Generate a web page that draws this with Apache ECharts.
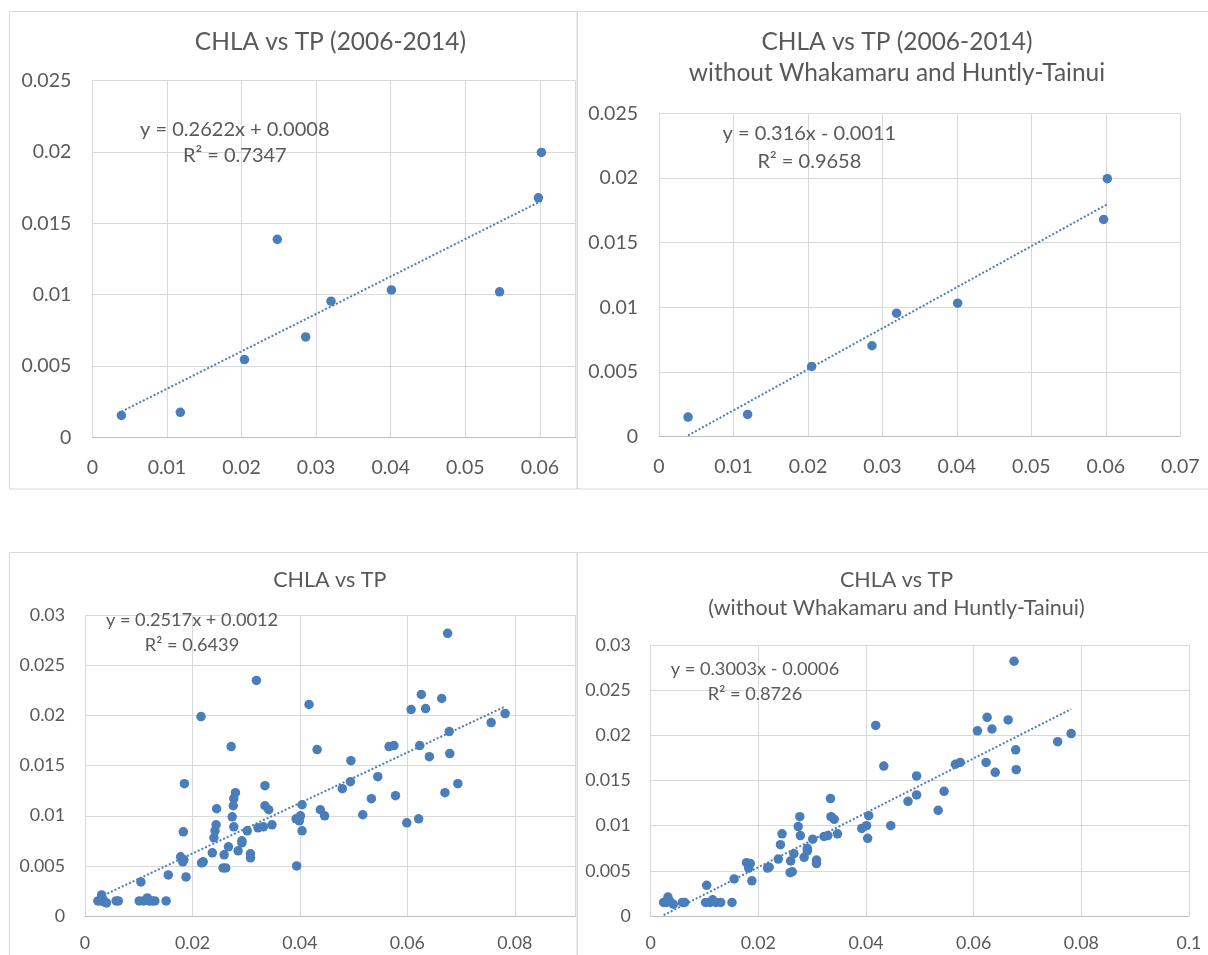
<!DOCTYPE html>
<html>
<head>
<meta charset="utf-8">
<script src="https://cdn.jsdelivr.net/npm/echarts@6/dist/echarts.min.js"></script>
<style>
html,body{margin:0;padding:0;background:#ffffff;}
#chart{width:1208px;height:955px;}
</style>
</head>
<body>
<div id="chart"></div>
<script>
// ---------- DATA ----------
// Panel 1: CHLA vs TP (2006-2014)
const TL_TP   = [0.0039, 0.0118, 0.0204, 0.0248, 0.0286, 0.0320, 0.0401, 0.0546, 0.0598, 0.0602];
const TL_CHLA = [0.00153, 0.00175, 0.00545, 0.01388, 0.00704, 0.00954, 0.01033, 0.01020, 0.01679, 0.01997];

// Panel 2: CHLA vs TP (2006-2014) without Whakamaru and Huntly-Tainui
const TR_TP   = [0.0039, 0.0119, 0.0205, 0.0286, 0.0319, 0.0401, 0.0597, 0.0602];
const TR_CHLA = [0.00152, 0.00172, 0.00543, 0.00703, 0.00955, 0.01032, 0.01679, 0.01995];

// Panel 3: CHLA vs TP (all)
const BL_TP = [
  0.0024,0.0029,0.0031,0.0034,0.0036,0.0040,0.0058,0.0062,0.0104,0.0101,
  0.0109,0.0116,0.0120,0.0125,0.0130,0.0151,0.0155,0.0185,0.0183,0.0178,
  0.0184,0.0182,0.0188,0.0216,0.0217,0.0220,0.0237,0.0245,0.0244,0.0242,
  0.0240,0.0272,0.0280,0.0277,0.0276,0.0274,0.0277,0.0267,0.0259,0.0257,
  0.0262,0.0285,0.0292,0.0292,0.0302,0.0308,0.0308,0.0319,0.0335,0.0322,
  0.0332,0.0335,0.0342,0.0348,0.0394,0.0393,0.0399,0.0401,0.0404,0.0404,
  0.0417,0.0432,0.0438,0.0446,0.0495,0.0494,0.0479,0.0517,0.0533,0.0545,
  0.0566,0.0575,0.0578,0.0599,0.0621,0.0607,0.0626,0.0634,0.0664,0.0675,
  0.0623,0.0641,0.0678,0.0679,0.0670,0.0694,0.0756,0.0782
];
const BL_CHLA = [
  0.0015,0.0015,0.0021,0.0016,0.0014,0.0013,0.0015,0.0015,0.0034,0.0015,
  0.0015,0.0018,0.0015,0.0015,0.0015,0.0015,0.0041,0.0132,0.0084,0.0059,
  0.0056,0.0054,0.0039,0.0199,0.0053,0.0054,0.0063,0.0107,0.0091,0.0085,
  0.0078,0.0169,0.0123,0.0117,0.0110,0.0099,0.0089,0.0069,0.0061,0.0048,
  0.0048,0.0065,0.0075,0.0073,0.0085,0.0062,0.0058,0.0235,0.0130,0.0088,
  0.0089,0.0110,0.0106,0.0091,0.0050,0.0097,0.0095,0.0100,0.0111,0.0085,
  0.0211,0.0166,0.0106,0.0100,0.0155,0.0134,0.0127,0.0101,0.0117,0.0139,
  0.0169,0.0170,0.0120,0.0093,0.0097,0.0206,0.0221,0.0207,0.0217,0.0282,
  0.0170,0.0159,0.0184,0.0162,0.0123,0.0132,0.0193,0.0202
];

// Panel 4: CHLA vs TP (without Whakamaru and Huntly-Tainui)
const BR_TP = [
  0.0024,0.0029,0.0032,0.0036,0.0042,0.0059,0.0063,0.0104,0.0102,0.0110,
  0.0115,0.0121,0.0130,0.0151,0.0155,0.0178,0.0185,0.0182,0.0188,0.0217,
  0.0220,0.0237,0.0241,0.0244,0.0259,0.0263,0.0260,0.0266,0.0274,0.0277,
  0.0278,0.0285,0.0291,0.0291,0.0301,0.0308,0.0308,0.0322,0.0329,0.0334,
  0.0335,0.0341,0.0347,0.0392,0.0401,0.0405,0.0403,0.0418,0.0433,0.0446,
  0.0478,0.0494,0.0494,0.0534,0.0545,0.0566,0.0575,0.0607,0.0625,0.0634,
  0.0623,0.0640,0.0664,0.0675,0.0678,0.0679,0.0756,0.0781
];
const BR_CHLA = [
  0.0015,0.0015,0.0021,0.0016,0.0013,0.0015,0.0015,0.0034,0.0015,0.0015,
  0.0018,0.0015,0.0015,0.0015,0.0041,0.0059,0.0058,0.0053,0.0039,0.0053,
  0.0054,0.0063,0.0079,0.0091,0.0048,0.0049,0.0061,0.0069,0.0099,0.0110,
  0.0089,0.0065,0.0075,0.0072,0.0085,0.0062,0.0058,0.0088,0.0089,0.0130,
  0.0110,0.0107,0.0091,0.0097,0.0100,0.0111,0.0086,0.0211,0.0166,0.0100,
  0.0127,0.0155,0.0134,0.0117,0.0138,0.0168,0.0170,0.0205,0.0220,0.0207,
  0.0170,0.0159,0.0217,0.0282,0.0184,0.0162,0.0193,0.0202
];

// Linear trendline end points (as drawn in the picture)
const TL_TREND_X = [0.0039, 0.0603];  const TL_TREND_Y = [0.0018, 0.0166];
const TR_TREND_X = [0.0039, 0.0603];  const TR_TREND_Y = [0.0001, 0.0180];
const BL_TREND_X = [0.0028, 0.0782];  const BL_TREND_Y = [0.0019, 0.0209];
const BR_TREND_X = [0.0024, 0.0781];  const BR_TREND_Y = [0.0001, 0.0229];

// Texts
const TITLES = [
  'CHLA vs TP (2006-2014)',
  'CHLA vs TP (2006-2014)\nwithout Whakamaru and Huntly-Tainui',
  'CHLA vs TP',
  'CHLA vs TP\n(without Whakamaru and Huntly-Tainui)'
];
const EQUATIONS = [
  ['y = 0.2622x + 0.0008', 'R\u00B2 = 0.7347'],
  ['y = 0.316x - 0.0011',  'R\u00B2 = 0.9658'],
  ['y = 0.2517x + 0.0012', 'R\u00B2 = 0.6439'],
  ['y = 0.3003x - 0.0006', 'R\u00B2 = 0.8726']
];

// ---------- STYLE / LAYOUT ----------
const FONT = 'Lato, Carlito, Calibri, "Open Sans", sans-serif';
const TXT = '#595959';
const BLUE = '#4a7ebb';
const GRIDC = '#d9d9d9';

const zip = (xs, ys) => xs.map((x, i) => [x, ys[i]]);
const fmt = v => String(parseFloat(Number(v).toFixed(4)));

const panels = [
  {grid:{left:92.3, top:80.7, width:483.4, height:356.6}, xmax:0.0648, xint:0.01, ymax:0.025,
   lblSize:19.5, lblMarginY:21, lblMarginX:20, xs:TL_TP, ys:TL_CHLA, tx:TL_TREND_X, ty:TL_TREND_Y, showMax:false,
   title:{cx:330.4, top:25.9, size:24.5, lh:31.6}, eq:{cx:234.8, y1:130, y2:156, size:20}},
  {grid:{left:659, top:113.3, width:521.3, height:323.4}, xmax:0.07, xint:0.01, ymax:0.025,
   lblSize:19.5, lblMarginY:21, lblMarginX:20, xs:TR_TP, ys:TR_CHLA, tx:TR_TREND_X, ty:TR_TREND_Y, showMax:true,
   title:{cx:897, top:25.9, size:24.5, lh:31.6}, eq:{cx:809.4, y1:133.3, y2:161.7, size:20}},
  {grid:{left:85, top:615.3, width:490.5, height:300.7}, xmax:0.0913, xint:0.02, ymax:0.03,
   lblSize:17.8, lblMarginY:20, lblMarginX:18, xs:BL_TP, ys:BL_CHLA, tx:BL_TREND_X, ty:BL_TREND_Y, showMax:false,
   title:{cx:329.8, top:565.9, size:21.5, lh:28.3}, eq:{cx:192, y1:620, y2:645, size:18.2}},
  {grid:{left:650.7, top:645, width:538.3, height:271}, xmax:0.1, xint:0.02, ymax:0.03,
   lblSize:17.8, lblMarginY:20, lblMarginX:18, xs:BR_TP, ys:BR_CHLA, tx:BR_TREND_X, ty:BR_TREND_Y, showMax:true,
   title:{cx:896.5, top:565.9, size:21.5, lh:28.3}, eq:{cx:755, y1:669.3, y2:694, size:18.2}}
];

const grids = [], xAxes = [], yAxes = [], series = [], titles = [], graphics = [];

// panel borders (the right charts overlap the left ones)
const borders = [
  {x:9.5, y:11.5, w:567.5, h:477.5},
  {x:577.5, y:11.5, w:640, h:477.5},
  {x:9.5, y:552.5, w:567.5, h:420},
  {x:577.5, y:552.5, w:640, h:420}
];
borders.forEach(b => graphics.push({
  type:'rect', silent:true, z:0,
  shape:{x:b.x, y:b.y, width:b.w, height:b.h},
  style:{fill:'rgba(0,0,0,0)', stroke:GRIDC, lineWidth:1}
}));

panels.forEach((p, i) => {
  grids.push(Object.assign({outerBoundsMode:'none', containLabel:false}, p.grid));
  xAxes.push({
    gridIndex:i, type:'value', min:0, max:p.xmax, interval:p.xint,
    axisLine:{show:true, onZero:false, lineStyle:{color:'#bfbfbf', width:1}},
    axisTick:{show:false},
    splitLine:{show:true, lineStyle:{color:GRIDC, width:1}},
    axisLabel:{color:TXT, fontFamily:FONT, fontSize:p.lblSize, margin:p.lblMarginX,
               showMaxLabel:p.showMax, showMinLabel:true, formatter:fmt, hideOverlap:false}
  });
  yAxes.push({
    gridIndex:i, type:'value', min:0, max:p.ymax, interval:0.005,
    axisLine:{show:true, lineStyle:{color:GRIDC, width:1}},
    axisTick:{show:false},
    splitLine:{show:true, lineStyle:{color:GRIDC, width:1}},
    axisLabel:{color:TXT, fontFamily:FONT, fontSize:p.lblSize, margin:p.lblMarginY,
               formatter:fmt, hideOverlap:false}
  });
  series.push({
    type:'line', xAxisIndex:i, yAxisIndex:i, data:zip(p.tx, p.ty),
    symbol:'none', silent:true, z:3,
    lineStyle:{type:'dotted', width:2, color:BLUE}
  });
  series.push({
    type:'scatter', xAxisIndex:i, yAxisIndex:i, data:zip(p.xs, p.ys),
    symbol:'circle', symbolSize:9.5, z:4,
    itemStyle:{color:BLUE, opacity:1}
  });
  titles.push({
    text:TITLES[i], left:p.title.cx, top:p.title.top, textAlign:'center', padding:0,
    textStyle:{fontFamily:FONT, fontSize:p.title.size, fontWeight:'normal', color:TXT, lineHeight:p.title.lh}
  });
  [p.eq.y1, p.eq.y2].forEach((yy, k) => graphics.push({
    type:'text', x:p.eq.cx, y:yy, z:10, silent:true,
    style:{text:EQUATIONS[i][k], fill:TXT, fontFamily:FONT, fontSize:p.eq.size,
           align:'center', verticalAlign:'middle'}
  }));
});

const chart = echarts.init(document.getElementById('chart'), null, {renderer:'canvas'});
chart.setOption({
  backgroundColor:'#ffffff',
  animation:false,
  title:titles,
  grid:grids,
  xAxis:xAxes,
  yAxis:yAxes,
  series:series,
  graphic:graphics
});
</script>
</body>
</html>
